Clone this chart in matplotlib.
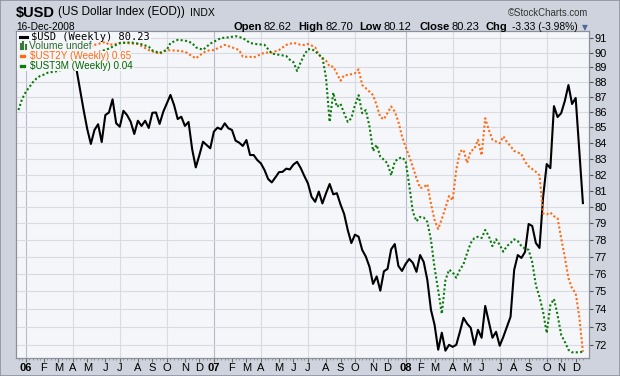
import numpy as np
import pandas as pd
import matplotlib
matplotlib.use("Agg")
import matplotlib.pyplot as plt
from matplotlib.lines import Line2D
from matplotlib.patches import Rectangle

plt.rcParams["font.family"] = ["Liberation Sans", "DejaVu Sans"]

# weekly bars, Monday dated, first one 19-Dec-2005, last one 15-Dec-2008 (16-Dec close)
first_week = "2005-12-19"

# $USD weekly close, one value per week
usd_close = [
    90.8, 91.1, 89.6, 89.0, 89.2, 89.5, 90.3, 90.5, 90.9, 90.6,
    90.2, 89.8, 89.4, 89.7, 90.1, 89.9, 88.9, 87.5, 86.14, 84.9,
    83.94, 84.84, 85.21, 84.06, 85.81, 85.98, 86.85, 85.27, 85.05, 86.09,
    85.81, 85.38, 84.58, 85.44, 85.10, 85.44, 84.97, 85.96, 85.98, 85.23,
    86.02, 86.58, 87.14, 86.47, 85.55, 85.70, 85.10, 85.36, 83.60, 82.45,
    83.23, 84.08, 83.87, 83.66, 84.73, 84.99, 84.88, 85.27, 84.95, 84.84,
    84.15, 84.02, 83.81, 84.19, 83.23, 83.23, 82.91, 82.70, 82.28, 81.72,
    81.51, 81.82, 82.15, 82.17, 82.37, 82.32, 82.63, 82.80, 82.41, 81.91,
    81.45, 80.62, 80.31, 80.94, 80.21, 80.84, 81.41, 80.77, 80.84, 80.15,
    79.57, 78.60, 77.82, 78.32, 78.20, 77.41, 77.02, 76.43, 75.43, 75.86,
    75.04, 76.16, 76.30, 77.45, 77.76, 76.47, 76.18, 76.59, 76.88, 76.65,
    76.13, 77.11, 76.70, 75.66, 73.95, 73.11, 71.73, 72.67, 71.68, 72.00,
    71.89, 72.00, 72.72, 73.50, 73.17, 72.94, 72.00, 72.83, 72.39, 74.17,
    73.28, 72.39, 72.72, 71.95, 72.44, 73.00, 73.56, 76.24, 77.11, 76.94,
    77.29, 78.96, 78.84, 77.82, 77.53, 80.60, 82.66, 82.40, 86.40, 85.68,
    85.94, 86.74, 87.80, 86.54, 86.94, 83.55, 80.23,
]

# $UST2Y overlay (yield, %), week index -> value
ust2y_week = [
    0, 1, 2, 3, 4, 5, 6, 7, 8, 9, 10, 11, 12, 13, 14, 15, 16, 17, 18, 19, 20,
    21, 22, 24, 25, 29, 33, 36, 39, 41, 44, 46, 49, 51, 52, 53, 54, 57, 59, 61,
    62, 64, 65, 68, 70, 72, 74, 76, 78, 79, 80, 81, 82, 83, 85, 86, 87, 89, 90,
    91, 93, 94, 95, 96, 98, 99, 100, 101, 103, 104, 105, 106, 107, 108, 109,
    110, 111, 112, 113, 114, 115, 116, 117, 118, 119, 120, 121, 122, 123, 124,
    125, 126, 127, 128, 129, 130, 131, 132, 133, 134, 135, 136, 137, 139, 140,
    141, 143, 144, 145, 146, 147, 148, 149, 150, 151, 152, 153, 154, 155, 156,
]
ust2y = [
    4.38, 4.40, 4.35, 4.38, 4.45, 4.52, 4.58, 4.65, 4.68, 4.70, 4.66, 4.72,
    4.76, 4.80, 4.74, 4.82, 4.88, 4.90, 4.86, 4.93, 4.96,
    5.00, 5.03, 5.10, 5.00, 5.07, 5.03, 4.83, 4.71, 4.83, 4.81, 4.78, 4.57,
    4.74, 4.80, 4.83, 4.83, 5.00, 4.92, 4.83, 4.62, 4.62, 4.60, 4.75, 4.75,
    4.83, 5.00, 5.07, 5.00, 5.00, 5.03, 4.98, 4.92, 4.68, 4.50, 4.33, 4.33,
    3.94, 4.09, 4.09, 4.14, 4.25, 3.83, 3.75, 3.58, 3.35, 3.09, 3.05, 3.32,
    3.21, 3.00, 2.72, 2.54, 2.38, 2.22, 2.06, 1.93, 1.94, 1.98, 1.74, 1.56,
    1.47, 1.57, 1.69, 1.83, 1.78, 2.18, 2.46, 2.49, 2.28, 2.47, 2.50, 2.66,
    2.40, 3.07, 2.84, 2.66, 2.63, 2.60, 2.72, 2.62, 2.55, 2.47, 2.42, 2.30,
    2.23, 2.15, 2.10, 1.63, 1.62, 1.64, 1.60, 1.58, 1.38, 1.22, 1.06, 0.99,
    0.96, 0.82, 0.65,
]

# $UST3M overlay (yield, %), week index -> value
ust3m_week = [
    0, 1, 2, 3, 4, 5, 6, 7, 8, 9, 10, 11, 12, 13, 14, 15, 16, 17, 18, 19, 20,
    21, 22, 23, 24, 25, 28, 31, 34, 36, 37, 39, 41, 42, 44, 46, 48, 49, 51, 52,
    53, 56, 58, 60, 62, 64, 66, 68, 70, 72, 74, 75, 76, 77, 78, 79, 80, 81, 82,
    83, 84, 85, 86, 87, 88, 89, 90, 91, 92, 93, 94, 95, 96, 97, 98, 99, 100,
    101, 102, 103, 104, 105, 106, 107, 108, 109, 110, 111, 112, 113, 114, 115,
    116, 117, 118, 119, 120, 121, 122, 123, 124, 125, 126, 127, 128, 129, 130,
    131, 132, 133, 134, 135, 136, 137, 138, 139, 140, 141, 142, 143, 144, 145,
    146, 147, 148, 149, 150, 151, 152, 153, 154, 155, 156,
]
ust3m = [
    3.93, 4.11, 4.22, 4.30, 4.38, 4.44, 4.48, 4.50, 4.53, 4.54, 4.55, 4.56,
    4.58, 4.60, 4.62, 4.65, 4.68, 4.72, 4.75, 4.78, 4.80, 4.83, 4.86, 4.88,
    4.90, 4.92, 5.01, 5.02, 4.99, 4.95, 4.89, 4.85, 4.90, 5.01, 5.06, 5.05,
    5.01, 4.94, 4.90, 4.95, 5.00, 5.09, 5.10, 5.12, 5.09, 5.01, 4.99, 4.98,
    4.84, 4.82, 4.80, 4.74, 4.70, 4.56, 4.70, 4.82, 4.91, 4.91, 4.88, 4.82,
    4.78, 4.45, 3.74, 4.21, 3.98, 4.03, 3.88, 3.74, 3.80, 4.01, 4.17, 3.88,
    3.93, 3.67, 3.27, 3.37, 3.18, 3.13, 3.07, 2.88, 3.10, 3.15, 3.17, 3.11,
    2.72, 2.29, 2.14, 2.21, 2.20, 2.13, 1.84, 1.39, 1.03, 0.65, 1.19, 1.36,
    1.32, 1.23, 1.36, 1.45, 1.63, 1.79, 1.87, 1.89, 1.87, 2.00, 1.90, 1.74,
    1.85, 1.76, 1.65, 1.74, 1.79, 1.85, 1.82, 1.74, 1.70, 1.68, 1.48, 1.11,
    0.92, 0.68, 0.34, 0.79, 0.89, 0.63, 0.31, 0.20, 0.07, 0.03, 0.03, 0.03,
    0.04,
]

usd_ticks = list(range(72, 92))
month_letters = "JFMAMJJASOND"

W, H = 620, 376
BG = "#CED3DD"
PLOT_BG = "#F5F6FA"
GRID = "#D8DBE2"
YEAR_GRID = "#B7BBC5"
ORANGE = "#FF6A10"
GREEN = "#0B7A0B"

fig = plt.figure(figsize=(W / 100, H / 100), dpi=100, facecolor=BG)
fig.add_artist(Rectangle((0, 0), 1, 1, transform=fig.transFigure, fill=False,
                         edgecolor="#8E949F", lw=1.2, zorder=10))

L, R, T, B = 16, 589, 31, 358
ax = fig.add_axes([L / W, 1 - B / H, (R - L) / W, (B - T) / H])
ax.set_facecolor(PLOT_BG)

weeks = np.arange(len(usd_close))
dates = pd.date_range(first_week, periods=len(usd_close), freq="7D")

# overlays get their own hidden scales
ax_o = ax.twinx()
ax_o.set_yscale("log")
ax_o.set_ylim(0.6233, 5.484)
ax_o.axis("off")
ax_g = ax.twinx()
ax_g.set_ylim(-0.0614, 5.203)
ax_g.axis("off")

ax.plot(weeks, usd_close, color="black", lw=1.5, zorder=3)
ax_o.plot(ust2y_week, ust2y, color=ORANGE, lw=1.5, ls=(0, (1, 1.1)))
ax_g.plot(ust3m_week, ust3m, color=GREEN, lw=1.5, ls=(0, (1, 1.1)))

xlim = ((L - 18.5) / 3.618, (R - 18.5) / 3.618)
for a in (ax, ax_o, ax_g):
    a.set_xlim(*xlim)

ax.set_yscale("log")
ax.set_ylim(71.28, 91.5)
ax.set_yticks(usd_ticks, [str(t) for t in usd_ticks])
ax.set_yticks([], minor=True)
ax.yaxis.tick_right()
ax.tick_params(axis="y", which="major", length=3, pad=1, labelsize=8,
               color="#555555")
ax.yaxis.grid(True, color=GRID, lw=0.8)
ax.set_axisbelow(True)

new_month = [i for i in range(1, len(dates)) if dates[i].month != dates[i - 1].month]
labels = [f"{dates[i].year % 100:02d}" if dates[i].month == 1
          else month_letters[dates[i].month - 1] for i in new_month]
ax.set_xticks(new_month, labels)
for i, lab in zip(new_month, ax.get_xticklabels()):
    if dates[i].month == 1:
        lab.set_fontweight("bold")
ax.set_xticks(weeks, minor=True)
ax.tick_params(axis="x", which="major", length=3, pad=0.5, labelsize=8,
               color="#666666")
ax.tick_params(axis="x", which="minor", length=1.5, color="#888888")
for i in new_month:
    m = dates[i].month
    if m in (1, 4, 7, 10):
        ax.axvline(i, color=YEAR_GRID if m == 1 else GRID, lw=0.8, zorder=0.5)

for s in ax.spines.values():
    s.set_color("#8B909A")
    s.set_linewidth(0.9)

rend = fig.canvas.get_renderer()


def label(x, y, s, width, **kw):
    t = fig.text(x / W, 1 - y / H, s, va="center", ha="left", fontsize=10, **kw)
    t.set_fontsize(10 * width / t.get_window_extent(rend).width)
    return t


def put(x, y, s, **kw):
    t = fig.text(x / W, 1 - y / H, s, va="center", ha="left", **kw)
    return x + t.get_window_extent(rend).width


# header
x = put(16, 12.5, "$USD", fontsize=10.5, fontweight="bold")
x = put(x + 3, 12.5, "(US Dollar Index (EOD))", fontsize=8.5)
put(x + 5, 12.5, "INDX", fontsize=7.5)
label(508, 12.5, "\u00a9StockCharts.com", 81, color="#333333")
label(16.6, 26.5, "16-Dec-2008", 59)

quote = [(234, "Open", "bold"), (263.6, "82.62", "normal"),
         (298, "High", "bold"), (325, "82.70", "normal"),
         (359, "Low", "bold"), (384, "80.12", "normal"),
         (419, "Close", "bold"), (452, "80.23", "normal"),
         (486, "Chg", "bold")]
for qx, s, wt in quote:
    put(qx, 27, s, fontsize=8, fontweight=wt)
label(512, 27, "-3.33 (-3.98%)", 66)
put(581.5, 27.5, "\u25bc", fontsize=5.5, color="#4A6A9C", family="DejaVu Sans")

# legend rows sit on opaque strips, like the original
rows = [(31.5, 41, 151), (41, 51, 92), (51, 61, 131), (61, 70.5, 134)]
for top, bot, right in rows:
    fig.add_artist(Rectangle((17 / W, 1 - bot / H), (right - 17) / W, (bot - top) / H,
                             transform=fig.transFigure, facecolor=PLOT_BG,
                             edgecolor="none", zorder=2))

fig.add_artist(Line2D([20 / W, 27 / W], [1 - 36.5 / H] * 2, transform=fig.transFigure,
                      color="black", lw=2.2, zorder=4))
label(30.7, 36.5, "$USD (Weekly) 80.23", 119, family="DejaVu Sans Mono", zorder=4)

for bx, bh in zip([20.5, 23, 25.5], [5, 7, 4]):
    fig.add_artist(Line2D([bx / W] * 2, [1 - 48.5 / H, 1 - (48.5 - bh) / H],
                          transform=fig.transFigure, color="#3C7A3C", lw=1.5, zorder=4))
label(29, 46, "Volume undef", 62.7, color="#2F6B2F", zorder=4)

for yy, col in [(56, ORANGE), (65.7, GREEN)]:
    fig.add_artist(Line2D([21 / W, 24.5 / W], [1 - yy / H] * 2, transform=fig.transFigure,
                          color=col, lw=0, marker="s", ms=1.8, zorder=4))
label(30, 56, "$UST2Y (Weekly) 0.65", 100.7, color=ORANGE, zorder=4)
label(30, 65.7, "$UST3M (Weekly) 0.04", 103, color="#006400", zorder=4)

fig.savefig("out.png", dpi=100, facecolor=BG)
